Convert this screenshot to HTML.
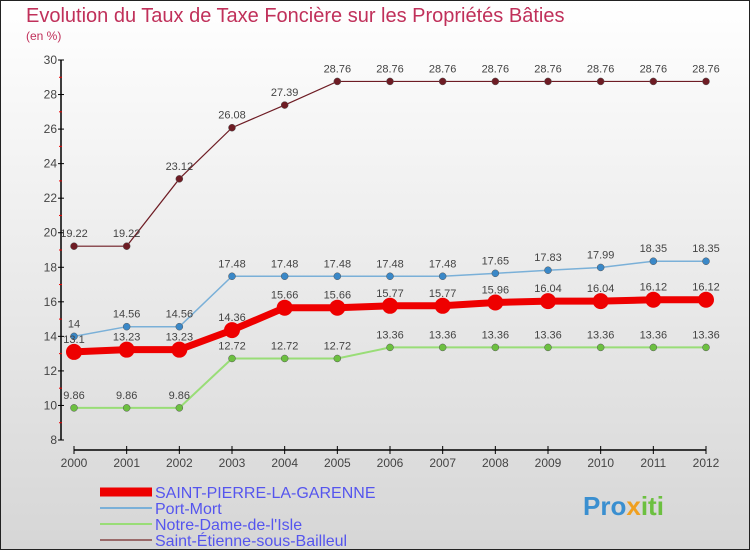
<!DOCTYPE html>
<html><head><meta charset="utf-8"><style>
body{margin:0;width:750px;height:550px;overflow:hidden;font-family:"Liberation Sans",sans-serif}
svg text{font-family:"Liberation Sans",sans-serif}
</style></head><body>
<svg id="c" width="750" height="550" xmlns="http://www.w3.org/2000/svg">
<defs><linearGradient id="bg" x1="0" y1="0" x2="0" y2="1"><stop offset="0" stop-color="#ffffff"/><stop offset="1" stop-color="#d6d6d6"/></linearGradient></defs>
<rect x="0.5" y="0.5" width="749" height="549" fill="url(#bg)" stroke="#222"/>
<text x="26" y="22" font-size="20" fill="#c0305a">Evolution du Taux de Taxe Foncière sur les Propriétés Bâties</text>
<text x="26" y="40" font-size="12" fill="#c0305a">(en %)</text>
<g id="axes"></g><g id="series"></g><g id="legend"></g>
<text x="583" y="515" font-size="26" font-weight="bold" fill="#3a8fd0">Pro<tspan fill="#f0a020">x</tspan><tspan fill="#6cc040">iti</tspan></text>
</svg>
<script>
const years=[2000,2001,2002,2003,2004,2005,2006,2007,2008,2009,2010,2011,2012];
const yTicks=[8,10,12,14,16,18,20,22,24,26,28,30];
const saintPierre=[13.1,13.23,13.23,14.36,15.66,15.66,15.77,15.77,15.96,16.04,16.04,16.12,16.12];
const portMort=[14,14.56,14.56,17.48,17.48,17.48,17.48,17.48,17.65,17.83,17.99,18.35,18.35];
const notreDame=[9.86,9.86,9.86,12.72,12.72,12.72,13.36,13.36,13.36,13.36,13.36,13.36,13.36];
const saintEtienne=[19.22,19.22,23.12,26.08,27.39,28.76,28.76,28.76,28.76,28.76,28.76,28.76,28.76];
const names=["SAINT-PIERRE-LA-GARENNE","Port-Mort","Notre-Dame-de-l'Isle","Saint-Étienne-sous-Bailleul"];
const NS="http://www.w3.org/2000/svg";
const X=i=>74+i*(706-74)/(years.length-1);
const Y=v=>60+(30-v)*(380/22);
function mk(p,t,a){const e=document.createElementNS(NS,t);for(const k in a)e.setAttribute(k,a[k]);p.appendChild(e);return e;}
const ax=document.getElementById('axes');
mk(ax,'line',{x1:61,y1:60,x2:61,y2:440,stroke:'#000','stroke-width':1.5});
yTicks.forEach(v=>{
 mk(ax,'line',{x1:58,y1:Y(v),x2:64,y2:Y(v),stroke:'#000'});
 if(v<30)mk(ax,'line',{x1:59,y1:Y(v+1),x2:62,y2:Y(v+1),stroke:'#e00'});
 const t=mk(ax,'text',{x:57,y:Y(v)+4,'font-size':12,'text-anchor':'end',fill:'#444'});
 t.textContent=v;
 
 
});
mk(ax,'line',{x1:X(0),y1:450,x2:X(12),y2:450,stroke:'#000','stroke-width':1.5});
years.forEach((y,i)=>{
 mk(ax,'line',{x1:X(i),y1:446,x2:X(i),y2:454,stroke:'#000'});
 const t=mk(ax,'text',{x:X(i),y:467,'font-size':12,'text-anchor':'middle',fill:'#444'});
 t.textContent=y;
 
 
});
const S=document.getElementById('series');
const defs=[[saintEtienne,'#6e1c24','#6e1c24',1.2,3.5,'saint-etienne'],[notreDame,'#99dd77','#6cc040',2,3.5,'notre-dame'],[portMort,'#7ab0d8','#3a88c8',1.5,3.5,'port-mort'],[saintPierre,'#ee0000','#ee0000',7,8,'saint-pierre']];
defs.forEach(([d,lc,pc,w,r,n],k)=>{
 const g=mk(S,'g',{});
 
 
 mk(g,'polyline',{points:d.map((v,i)=>X(i)+','+Y(v)).join(' '),fill:'none',stroke:lc,'stroke-width':w});
 d.forEach((v,i)=>{
  const c=mk(g,'circle',{cx:X(i),cy:Y(v),r:r,fill:pc,stroke:k==3?'none':'#555','stroke-width':0.5});
  
  
  const t=mk(g,'text',{x:X(i),y:Y(v)-9,'font-size':11,'text-anchor':'middle',fill:'#444'});
  t.textContent=v;
  
  
 });
});
const L=document.getElementById('legend');
const lg=[['#ee0000',9],['#7ab0d8',2],['#99dd77',2],['#9a6a6a',2]];
names.forEach((n,i)=>{
 const y=492+i*16;
 const g=mk(L,'g',{});
 
 
 mk(g,'line',{x1:100,y1:y,x2:152,y2:y,stroke:lg[i][0],'stroke-width':lg[i][1]});
 const t=mk(g,'text',{x:155,y:y+6,'font-size':16,fill:'#5555ee'});
 t.textContent=n;
});
</script>
</body></html>
